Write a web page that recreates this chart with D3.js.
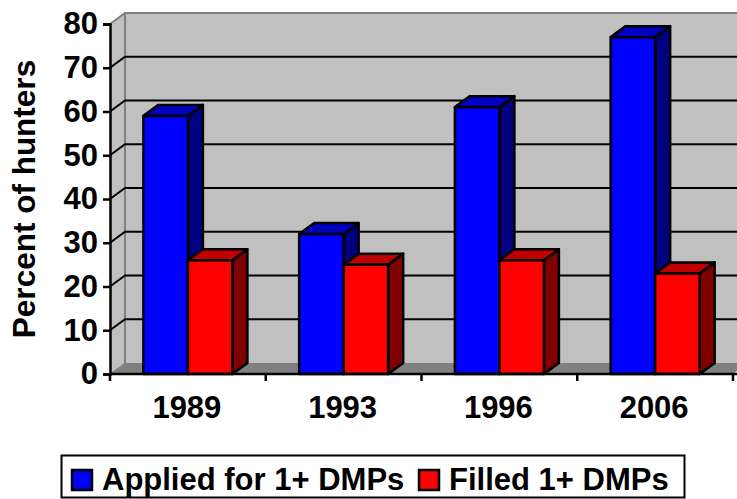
<!DOCTYPE html>
<html>
<head>
<meta charset="utf-8">
<script src="https://cdn.jsdelivr.net/npm/d3@7"></script>
<style>
html, body { margin: 0; padding: 0; background: #fff; overflow: hidden; }
text { font-family: "Liberation Sans", Arial, sans-serif; font-weight: bold; fill: #000; }
</style>
</head>
<body>
<div class="chart"></div>
<script>
// values
var years = ["1989", "1993", "1996", "2006"];
var applied = [59, 32, 61, 77];
var filled = [26, 25, 26, 23];
var yTicks = [0, 10, 20, 30, 40, 50, 60, 70, 80];
var seriesNames = ["Applied for 1+ DMPs", "Filled 1+ DMPs"];

var svgW = 737;
var svgH = 499;

// plot edges and the 3D depth offset
var plotL = 110, plotR = 733, plotT = 24, plotB = 374;
var depthX = 15, depthY = -11;

var x = d3.scaleBand().domain(years).range([plotL, plotR]);
var xInner = d3.scaleBand().domain(seriesNames)
    .range([33.4, 122.4]);
var y = d3.scaleLinear().domain([0, 80]).range([plotB, plotT]);

var svg = d3.select(".chart").append("svg")
    .attr("width", svgW)
    .attr("height", svgH)
    .style("display", "block");

function pts(arr) {
    return arr.map(function(p) { return p.join(","); }).join(" ");
}

// back wall
svg.append("polygon")
    .attr("points", pts([[plotL + depthX, plotT + depthY], [plotR + depthX, plotT + depthY], [plotR + depthX, plotB + depthY], [plotL + depthX, plotB + depthY]]))
    .attr("fill", "#c0c0c0");
svg.append("polygon")
    .attr("points", pts([[plotL, plotT], [plotL + depthX, plotT + depthY], [plotL + depthX, plotB + depthY], [plotL, plotB]]))
    .attr("fill", "#c0c0c0");

// floor
svg.append("polygon")
    .attr("points", pts([[plotL, plotB], [plotL + depthX, plotB + depthY], [plotR + depthX, plotB + depthY], [plotR, plotB]]))
    .attr("fill", "#808080");

// wall edges
svg.append("polyline")
    .attr("points", pts([[plotL, plotT], [plotL + depthX, plotT + depthY], [plotR + depthX, plotT + depthY]]))
    .attr("fill", "none").attr("stroke", "#808080").attr("stroke-width", 2);
svg.append("line")
    .attr("x1", plotL + depthX).attr("x2", plotL + depthX)
    .attr("y1", plotT + depthY).attr("y2", plotB + depthY)
    .attr("stroke", "#808080").attr("stroke-width", 2);
svg.append("line")
    .attr("x1", plotL).attr("x2", plotL + depthX)
    .attr("y1", plotB).attr("y2", plotB + depthY)
    .attr("stroke", "#808080").attr("stroke-width", 1);

// gridlines, skip 0 and 80
var grid = svg.append("g");
yTicks.slice(1, -1).forEach(function(t) {
    grid.append("polyline")
        .attr("points", pts([[plotL, y(t)], [plotL + depthX, y(t) + depthY], [plotR + depthX, y(t) + depthY]]))
        .attr("fill", "none").attr("stroke", "#000").attr("stroke-width", 2);
});

// 3D bars
function drawBar(year, name, value, front, topCol, side) {
    var x0 = x(year) + xInner(name);
    var x1 = x0 + xInner.bandwidth();
    var y0 = y(value);
    var g = svg.append("g")
        .attr("stroke", "#000").attr("stroke-width", 2.5).attr("stroke-linejoin", "round");
    g.append("polygon")
        .attr("points", pts([[x1, y0], [x1 + depthX, y0 + depthY], [x1 + depthX, plotB + depthY], [x1, plotB]]))
        .attr("fill", side);
    g.append("polygon")
        .attr("points", pts([[x0, y0], [x0 + depthX, y0 + depthY], [x1 + depthX, y0 + depthY], [x1, y0]]))
        .attr("fill", topCol);
    g.append("rect")
        .attr("x", x0).attr("y", y0)
        .attr("width", x1 - x0).attr("height", plotB - y0)
        .attr("fill", front);
}

years.forEach(function(yr, i) {
    drawBar(yr, seriesNames[0], applied[i], "#0000ff", "#0000c0", "#000080");
    drawBar(yr, seriesNames[1], filled[i], "#ff0000", "#c00000", "#800000");
});

// axes
var yAxis = d3.axisLeft(y).tickValues(yTicks).tickSize(7).tickPadding(5);
var gy = svg.append("g")
    .attr("transform", "translate(" + plotL + ",0)")
    .call(yAxis);
gy.selectAll("text").style("font-size", "31px");
gy.selectAll("path, line").attr("stroke", "#000").attr("stroke-width", 2.5);

var gx = svg.append("g").attr("transform", "translate(0," + plotB + ")");
gx.append("line")
    .attr("x1", plotL).attr("x2", svgW)
    .attr("stroke", "#000").attr("stroke-width", 2.5);
var tickPos = years.map(function(d) { return x(d); }).concat([plotR]);
gx.selectAll("line.t").data(tickPos).enter().append("line")
    .attr("class", "t")
    .attr("x1", function(d) { return d; })
    .attr("x2", function(d) { return d; })
    .attr("y2", 7)
    .attr("stroke", "#000").attr("stroke-width", 2.5);
gx.selectAll("text").data(years).enter().append("text")
    .attr("x", function(d) { return x(d) + x.bandwidth() / 2 - 1; })
    .attr("y", 44)
    .attr("text-anchor", "middle")
    .style("font-size", "31px")
    .text(function(d) { return d; });

svg.append("text")
    .attr("transform", "translate(35,199) rotate(-90)")
    .attr("text-anchor", "middle")
    .style("font-size", "31.5px")
    .text("Percent of hunters");

// legend
var legend = svg.append("g");
legend.append("rect")
    .attr("x", 61.5).attr("y", 455.5)
    .attr("width", 623).attr("height", 42)
    .attr("fill", "#fff").attr("stroke", "#000").attr("stroke-width", 2);
var legendX = [72, 419];
var legendFill = ["#0000ff", "#ff0000"];
seriesNames.forEach(function(name, i) {
    legend.append("rect")
        .attr("x", legendX[i]).attr("y", 470)
        .attr("width", 20).attr("height", 20)
        .attr("fill", legendFill[i]).attr("stroke", "#000").attr("stroke-width", 2.5);
    legend.append("text")
        .attr("x", legendX[i] + 30).attr("y", 490)
        .style("font-size", "31px")
        .text(name);
});
</script>
</body>
</html>
